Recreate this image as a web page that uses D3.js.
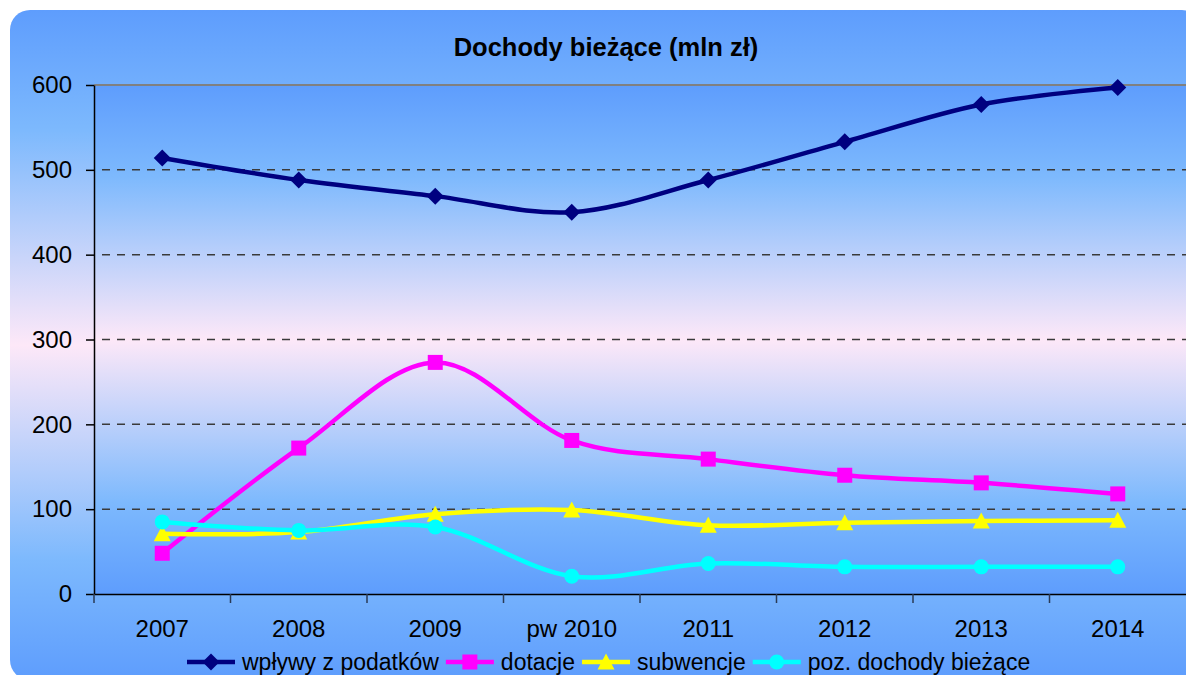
<!DOCTYPE html>
<html><head><meta charset="utf-8">
<script src="https://cdn.jsdelivr.net/npm/d3@7"></script>
<style>html,body{margin:0;padding:0;background:#fff;}svg{display:block;}</style>
</head><body>
<svg id="chart" width="1186" height="675"></svg>
<script>
const categories = ["2007","2008","2009","pw 2010","2011","2012","2013","2014"];
const wplywy = [514, 488, 469, 450, 488, 533, 577, 597];
const dotacje = [48, 172, 273, 181, 159, 140, 131, 118];
const subwencje = [71, 73, 94, 99, 81, 84, 86, 87];
const pozDochody = [85, 75, 79, 21, 36, 32, 32, 32];
const yTicks = [0, 100, 200, 300, 400, 500, 600];
const seriesNames = ["wpływy z podatków", "dotacje", "subwencje", "poz. dochody bieżące"];
const titleText = "Dochody bieżące (mln zł)";

const series = [
  {name: seriesNames[0], values: wplywy, color: "#000080", marker: "diamond"},
  {name: seriesNames[1], values: dotacje, color: "#ff00ff", marker: "square"},
  {name: seriesNames[2], values: subwencje, color: "#ffff00", marker: "triangle"},
  {name: seriesNames[3], values: pozDochody, color: "#00ffff", marker: "circle"}
];

const svg = d3.select("#chart");
const FONT = "'Liberation Sans', Arial, sans-serif";
const plot = {left: 94, top: 85, right: 1186, bottom: 594};

const defs = svg.append("defs");
function grad(id) {
  const g = defs.append("linearGradient").attr("id", id).attr("x1",0).attr("y1",0).attr("x2",0).attr("y2",1);
  [[0,"#5e9dfd"],[0.18,"#7db9fd"],[0.5,"#fde8f8"],[0.82,"#7db9fd"],[1,"#5e9dfd"]].forEach(([o,c]) =>
    g.append("stop").attr("offset", o).attr("stop-color", c));
}
grad("gOuter"); grad("gPlot");

// outer chart area
svg.append("rect").attr("x", 10).attr("y", 10).attr("width", 1192).attr("height", 670)
  .attr("rx", 20).attr("ry", 20).attr("fill", "url(#gOuter)");

// plot area
svg.append("rect").attr("x", plot.left).attr("y", plot.top)
  .attr("width", plot.right - plot.left).attr("height", plot.bottom - plot.top)
  .attr("fill", "url(#gPlot)");

const x = d3.scaleBand().domain(categories).range([plot.left, plot.right]).paddingInner(0).paddingOuter(0);
const y = d3.scaleLinear().domain([0, 600]).range([plot.bottom, plot.top]);
const cx = c => x(c) + x.bandwidth() / 2;

// gridlines
svg.append("g").selectAll("line").data(yTicks.filter(t => t > 0 && t < 600)).join("line")
  .attr("x1", plot.left).attr("x2", plot.right)
  .attr("y1", d => y(d)).attr("y2", d => y(d))
  .attr("stroke", "#3a3a3a").attr("stroke-width", 1.5)
  .attr("stroke-dasharray", "8,7").attr("stroke-dashoffset", -8);
svg.append("line").attr("x1", plot.left).attr("x2", plot.right)
  .attr("y1", y(600)).attr("y2", y(600)).attr("stroke", "#808080").attr("stroke-width", 2);

// y axis
const yAxis = svg.append("g").attr("transform", `translate(${plot.left},0)`)
  .call(d3.axisLeft(y).tickValues(yTicks).tickSize(8).tickPadding(14).tickSizeOuter(0));
yAxis.select(".domain").attr("stroke", "#000").attr("stroke-width", 1.5);
yAxis.selectAll(".tick line").attr("stroke", "#000").attr("stroke-width", 1.5);
yAxis.selectAll("text").attr("font-family", FONT).attr("font-size", 24).attr("fill", "#000");

// x axis
const xAxis = svg.append("g").attr("transform", `translate(0,${plot.bottom})`)
  .call(d3.axisBottom(x).tickSize(0).tickPadding(26).tickSizeOuter(0));
xAxis.select(".domain").attr("stroke", "#000").attr("stroke-width", 1.5);
xAxis.selectAll("text").attr("font-family", FONT).attr("font-size", 24).attr("fill", "#000");
svg.append("g").selectAll("line").data(categories).join("line")
  .attr("x1", d => x(d)).attr("x2", d => x(d))
  .attr("y1", plot.bottom).attr("y2", plot.bottom + 9)
  .attr("stroke", "#2a3a55").attr("stroke-width", 1.5);

function markerPath(type, s) {
  const h = s / 2;
  if (type === "diamond") return `M0,${-h-1}L${h+1},0L0,${h+1}L${-h-1},0Z`;
  if (type === "square") return `M${-h},${-h}H${h}V${h}H${-h}Z`;
  if (type === "triangle") return `M0,${-h-1}L${h+1},${h}L${-h-1},${h}Z`;
  return `M${h},0A${h},${h} 0 1,1 ${-h},0A${h},${h} 0 1,1 ${h},0Z`;
}

const line = d3.line().x(d => cx(d.c)).y(d => y(d.v)).curve(d3.curveCatmullRom.alpha(0));
const gLines = svg.append("g");
series.forEach(s => {
  const pts = categories.map((c, i) => ({c, v: s.values[i]}));
  gLines.append("path").datum(pts).attr("d", line)
    .attr("fill", "none").attr("stroke", s.color).attr("stroke-width", 4.5)
    .attr("stroke-linejoin", "round");
});
series.forEach(s => {
  const pts = categories.map((c, i) => ({c, v: s.values[i]}));
  gLines.append("g").selectAll("path").data(pts).join("path")
    .attr("transform", d => `translate(${cx(d.c)},${y(d.v)})`)
    .attr("d", markerPath(s.marker, 15)).attr("fill", s.color);
});

// title
svg.append("text").attr("x", 606).attr("y", 56).attr("text-anchor", "middle")
  .attr("font-family", FONT).attr("font-weight", "bold").attr("font-size", 25.5)
  .attr("fill", "#000").text(titleText);

// legend
const legend = svg.append("g");
let lx = 187;
const ly = 662;
series.forEach(s => {
  const g = legend.append("g");
  g.append("line").attr("x1", lx).attr("x2", lx + 48).attr("y1", ly).attr("y2", ly)
    .attr("stroke", s.color).attr("stroke-width", 4.5);
  g.append("path").attr("transform", `translate(${lx + 24},${ly})`)
    .attr("d", markerPath(s.marker, 15)).attr("fill", s.color);
  const t = g.append("text").attr("x", lx + 55).attr("y", ly + 8)
    .attr("font-family", FONT).attr("font-size", 23).attr("fill", "#000").text(s.name);
  lx = lx + 55 + t.node().getComputedTextLength() + 7;
});
</script>
</body></html>
